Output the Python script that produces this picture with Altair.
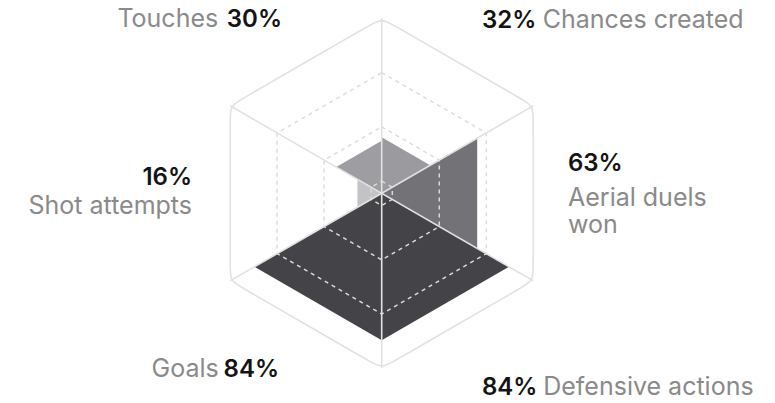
import math
import altair as alt
import pandas as pd

# ---------------- data ----------------
metrics = ["Touches", "Chances created", "Aerial duels won",
           "Defensive actions", "Goals", "Shot attempts"]
values = [30, 32, 63, 84, 84, 16]
ring_levels = [0.07, 0.38, 0.69]

# ---------------- style / layout ----------------
W, H = 759, 387
R = 175.0
CX, CY = 373.7, 201.7          # centre: px from left / from bottom of plot
fills = ["#9e9da2", "#9b9a9f", "#737276", "#444448", "#444448", "#c3c2c5"]
seg_start = [150, 90, 30, -30, -90, -150]   # each metric spans a 60° wedge
FONT = "Inter"
FS_PCT = 24
FS_NAME = 25
LINE_H = 27

# label layout (offsets relative to centre, in px): align, pct(x,y), name(x,y)
layout = {
    "Touches":           ("right", (-99.7, 166.6), (-163.5, 166.6)),
    "Chances created":   ("left", (100.3, 165.6), (161.0, 165.6)),
    "Aerial duels won":  ("left", (186.3, 22.6), (186.3, -12.7)),
    "Defensive actions": ("left", (100.3, -201.5), (161.5, -201.5)),
    "Goals":             ("right", (-102.7, -183.4), (-163.0, -183.4)),
    "Shot attempts":     ("right", (-189.7, 8.3), (-189.7, -20.7)),
}
name_lines = {"Aerial duels won": ["Aerial duels", "won"]}


def pt(frac, ang):
    a = math.radians(ang)
    return round(frac * R * math.cos(a), 6), round(frac * R * math.sin(a), 6)


# wedge triangles as areas (every wedge has one vertical edge)
area_rows = []
for m, v, a0 in zip(metrics, values, seg_start):
    pts = [(0.0, 0.0), pt(v / 100, a0), pt(v / 100, a0 - 60)]
    for i in range(3):
        j, k = [n for n in range(3) if n != i]
        if abs(pts[j][0] - pts[k][0]) < 1e-6:
            area_rows.append({"metric": m, "x": pts[i][0], "y": pts[i][1], "y2": pts[i][1]})
            area_rows.append({"metric": m, "x": pts[j][0],
                              "y": min(pts[j][1], pts[k][1]),
                              "y2": max(pts[j][1], pts[k][1])})
            break
area_df = pd.DataFrame(area_rows)

# dashed inner rings
ring_rows = []
for lv in ring_levels:
    for k in range(6):
        x, y = pt(lv, 90 - 60 * k)
        ring_rows.append({"ring": lv, "order": k, "x": x, "y": y})
ring_df = pd.DataFrame(ring_rows)

# outer hexagon with rounded corners (basis-closed through corner points)
verts = [pt(1, 90 - 60 * k) for k in range(6)]
d = 14.0
outer_rows = []
o = 0
for k in range(6):
    V = verts[k]
    P = verts[k - 1]
    N = verts[(k + 1) % 6]
    for Q in (P, None, N):
        if Q is None:
            outer_rows.append({"order": o, "x": V[0], "y": V[1]})
        else:
            L = math.hypot(Q[0] - V[0], Q[1] - V[1])
            outer_rows.append({"order": o,
                               "x": V[0] + d * (Q[0] - V[0]) / L,
                               "y": V[1] + d * (Q[1] - V[1]) / L})
        o += 1
outer_df = pd.DataFrame(outer_rows)

# spokes
spoke_rows = []
for a in (90, 30, 150):
    x1, y1 = pt(1, a)
    x2, y2 = pt(1, a + 180)
    spoke_rows.append({"x": x1, "y": y1, "x2": x2, "y2": y2})
spoke_df = pd.DataFrame(spoke_rows)

# labels
lab_rows = []
for m, v in zip(metrics, values):
    al, (px, py), (nx, ny) = layout[m]
    lab_rows.append({"kind": "pct", "align": al, "x": px, "y": py, "text": f"{v}%"})
    for i, line in enumerate(name_lines.get(m, [m])):
        lab_rows.append({"kind": "name", "align": al, "x": nx, "y": ny - i * LINE_H, "text": line})
lab_df = pd.DataFrame(lab_rows)

xs = alt.Scale(domain=[-CX, W - CX], nice=False, zero=False)
ys = alt.Scale(domain=[-CY, H - CY], nice=False, zero=False)
X = lambda f="x": alt.X(f"{f}:Q", scale=xs, axis=None)
Y = lambda f="y": alt.Y(f"{f}:Q", scale=ys, axis=None, stack=None)

areas = alt.Chart(area_df).mark_area(opacity=1, strokeWidth=0).encode(
    x=X(), y=Y(), y2="y2:Q",
    color=alt.Color("metric:N", scale=alt.Scale(domain=metrics, range=fills), legend=None),
    detail="metric:N",
)

rings = alt.Chart(ring_df).mark_line(
    interpolate="linear-closed", color="#dcdcdc", strokeWidth=1.5, strokeDash=[4, 4]
).encode(x=X(), y=Y(), detail="ring:N", order="order:Q")

spokes = alt.Chart(spoke_df).mark_rule(color="#e2e2e2", strokeWidth=1.6).encode(
    x=X(), y=Y(), x2="x2:Q", y2="y2:Q"
)

outer = alt.Chart(outer_df).mark_line(
    interpolate="basis-closed", color="#e2e2e2", strokeWidth=1.6
).encode(x=X(), y=Y(), order="order:Q")


def text_layer(kind, align):
    if kind == "pct":
        mk = dict(font=FONT, fontSize=FS_PCT, fontWeight=600, color="#141414")
    else:
        mk = dict(font=FONT, fontSize=FS_NAME, fontWeight=400, color="#8a8a8a")
    return alt.Chart(lab_df).transform_filter(
        (alt.datum.kind == kind) & (alt.datum.align == align)
    ).mark_text(align=align, baseline="alphabetic", **mk).encode(
        x=X(), y=Y(), text="text:N"
    )


texts = [text_layer(k, a) for k in ("pct", "name") for a in ("left", "right")]

chart = alt.layer(areas, rings, spokes, outer, *texts).properties(
    width=W, height=H, padding=0, autosize=alt.AutoSizeParams(type="none"),
    background="white",
).configure_view(stroke=None)

chart.save("out.html", embed_options={"renderer": "svg", "actions": False})
